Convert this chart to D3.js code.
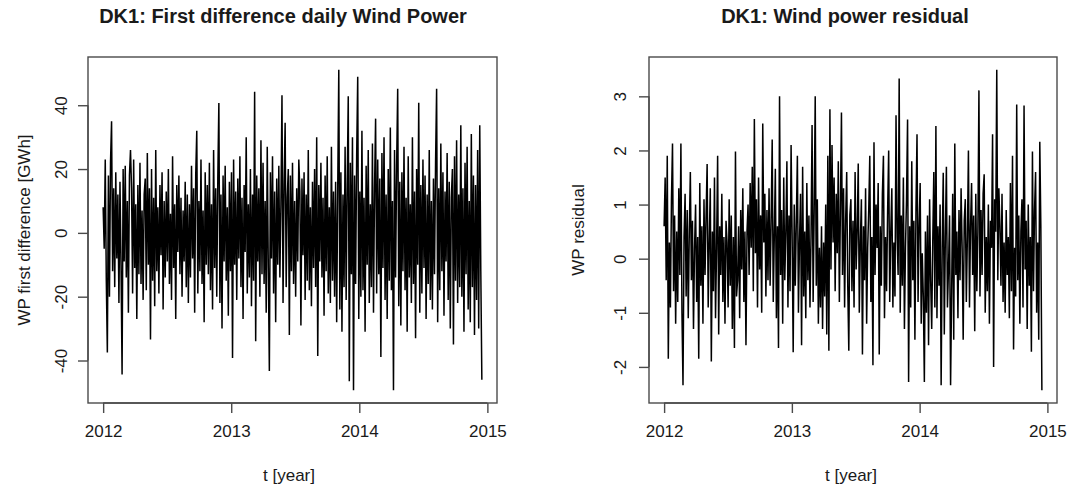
<!DOCTYPE html>
<html>
<head>
<meta charset="utf-8">
<script src="https://cdn.jsdelivr.net/npm/d3@7"></script>
<style>
  html, body { margin: 0; padding: 0; background: #fff; }
  svg { display: block; font-family: "Liberation Sans", Arial, sans-serif; }
</style>
</head>
<body>
<svg id="chart" width="1075" height="490"></svg>
<script>
// ---- data (daily series sampled every 3 days, starting 2012-01-01) ----
const startYear = 2012;
const stepDays = 3;

const wpDiff = [
  8, -5, 23, -15, -37.5, 18, -20, 22, 35, -12, 14, -17, 19, -8, 12, -22, 16, -10, -44.4, 20,
  -9, 21, -14, 10, -25, 18, 26, 14, -19, 23, -11, 9, -27, 15, -13, 22, -16, 7, -21, 12,
  17, -18, 25, -10, 14, -33.4, 20, -15, 11, -23, 26, -12, 8, -19, 15, -7, 19, -24, 10, -14,
  13, -9, 20, -16, 6, -21, 24, -11, 9, -27, 15, -6, 18, -13, 11, -20, 7, -9, 16, -17,
  12, -22, 9, -14, 21, -8, 14, -25, 18, 32, -19, 10, -12, 23, -16, 7, -28, 19, -10, 15,
  -13, 22, -18, 9, -24, 26, -11, 14, -20, 17, 40.7, -22, 12, -30, 18, -9, 21, -15, 8, -26,
  16, -12, 19, -39.2, 23, -10, 13, -21, 17, -8, 24, -17, 11, -27, 15, -6, 30, -19, 9, -14,
  20, -23, 12, -15, 44.2, -34, 18, -9, 14, -20, 29, -13, 22, -16, 10, -25, 27, -11, -43.3, 19,
  -8, 24, -19, 13, -28, 17, -10, 21, -14, 9, 43.1, -22, 15, 34.5, -17, 11, 20, -32, 18, -12,
  22, -16, 10, -20, 14, -9, 23, 13, -29, 17, -7, 19, -21, 12, -15, 26, -18, 8, -23, 16,
  -11, 20, -17, 30, -38.6, 15, -9, 22, -14, 11, -26, 18, -12, 24, -19, 8, -22, 27, -15, 13,
  -20, 16, -28, 14, 51.1, -24, 19, -31, 12, -17, 27, -21, 15, 42.8, -46.5, 22, -13, 30, -49.3, 18,
  -16, 24, 48.9, -27, 13, -20, 32, -18, 11, -31, 21, -10, 26, -22, 9, -17, 28, -25, 14, 35.8,
  -19, 23, -13, 17, -38.9, 25, -11, 30, -21, 12, -27, 20, -15, 33, -18, 10, -49.3, 26, -14, 21,
  45.2, -23, 16, -29, 19, -12, 27, -18, 11, -31, 24, -14, 9, -22, 30, -16, 13, -33, 20, -10,
  40.8, -25, 15, -19, 23, -11, 18, -27, 12, -16, 26, -21, 10, -24, 17, -13, 22, 45.2, -28, 14,
  -18, 28, -12, 19, -26, 13, -9, 25, -21, 16, -30, 11, 20, -35, 24, -15, 29, -22, 12, -17,
  33.7, -20, 14, -31, 22, -13, 27, -24, 10, -28, 31, -17, 18, -32, 15, -21, 26, -30, 33.7, -12, -46
];

const wpResid = [
  0.6, 1.5, -0.4, 1.9, -1.85, 0.3, -0.9, 1.1, 2.13, -0.6, 0.8, -1.2, 0.5, -0.8, 1.3, -0.3, 2.13, -1.0, -2.34, 0.4,
  1.2, -0.7, 0.9, -1.1, 0.5, 1.6, -0.4, 0.7, -1.3, 0.2, 1.0, -0.8, 0.4, -1.85, 1.4, -0.5, 0.6, -1.2, 1.1, -0.3,
  0.8, 1.75, -0.9, 0.3, 1.3, -1.9, 0.5, -0.6, 1.5, -1.1, 0.2, 1.9, -1.4, 0.6, -0.3, 1.2, -0.8, 0.4, -1.2, 0.7,
  0.3, -0.9, 1.1, -0.5, 0.8, -1.3, 0.4, -1.65, 1.98, -0.7, -0.4, 0.6, -1.1, 0.9, -0.2, 1.3, -0.8, 0.5, -1.6, 0.5,
  1.0, -0.3, 1.4, 0.2, 1.7, -0.6, 2.58, 0.1, 1.1, -0.9, 1.5, -0.2, 0.8, -1.0, 2.5, 0.3, 1.2, -0.7, 0.9, -0.4,
  1.3, -0.5, 0.7, 2.2, -0.8, 0.4, 1.66, -1.1, 0.6, -1.65, 3.0, -0.3, 0.9, -1.2, 1.5, -0.4, 0.5, 1.8, -0.9, 0.8,
  -0.6, 2.1, 0.4, -1.73, 1.0, -0.5, 0.7, 1.9, -1.0, 0.3, 1.2, -1.6, 1.7, -0.7, 0.5, -1.1, 1.4, -0.4, 0.8, -0.9,
  0.4, 2.47, -0.8, 0.9, 3.0, -0.5, 1.1, -1.2, 0.2, -0.9, 0.6, -1.3, 0.3, -0.7, 1.0, -1.4, 1.9, -1.7, 2.76, -0.2,
  2.1, 0.3, 1.5, -0.6, 1.2, 0.1, 1.8, -0.8, 0.9, 2.7, -0.3, 1.3, -0.9, 0.7, 1.6, -0.5, -1.7, 0.8, 1.1, -0.6,
  0.7, -0.9, 1.6, -0.2, 0.5, 1.76, -1.0, 0.3, 1.1, -1.77, 0.6, -0.4, 1.3, -1.2, 0.2, 0.9, 1.9, -0.8, 0.4, -1.97,
  2.15, -0.3, 1.0, 0.2, 1.4, -1.77, 0.6, -0.5, 1.2, 1.9, -1.1, 0.4, -0.6, 0.9, 2.0, -0.8, 0.5, 1.3, -0.9, 0.3,
  -0.7, 2.65, 0.4, -0.3, 3.33, -1.0, 0.8, -0.5, 1.5, -1.3, 0.2, 1.1, 2.57, -2.28, 0.6, -0.9, 1.8, -0.4, 0.7, -1.5,
  0.9, 2.3, -0.8, 0.6, 1.4, -1.2, 0.1, -0.7, -2.28, 0.5, -1.0, 0.8, -1.6, 1.1, -0.4, -1.3, 0.3, 1.6, -0.9, 2.45,
  -1.1, 0.6, -0.5, 1.0, -2.34, 0.2, 1.59, -1.4, 0.4, 1.7, -0.9, -0.2, 0.8, -2.34, -0.6, 1.2, -1.5, 2.13, -0.3, 0.5,
  -1.1, 0.9, -0.4, 1.3, 0.2, -1.5, 0.7, 1.1, -0.8, 0.4, 2.0, -0.9, 0.6, 1.4, -0.3, 0.8, -1.34, 1.2, -0.6, 0.5,
  3.11, -0.7, 0.9, -0.3, 1.2, 1.56, -1.0, 0.4, -0.6, 1.0, -1.2, 0.7, 0.2, 2.3, -2.0, 1.1, 0.5, 3.49, -0.4, 1.3,
  0.6, -0.5, 1.2, -0.8, 0.3, -1.0, 0.9, -0.3, 0.4, -1.1, 1.4, -0.6, 1.9, -1.68, 0.2, -0.7, 2.85, -0.4, 0.8, -1.2,
  0.5, 1.1, -0.9, 2.83, -0.2, 0.7, -1.3, 1.0, -0.5, 0.4, -1.72, 1.98, -0.6, 0.9, 1.6, -1.0, 0.3, -1.5, 2.16, 0.6, -2.43
];

const yearTicks = [2012, 2013, 2014, 2015];
const diffTicks = [-40, -20, 0, 20, 40];
const residTicks = [-2, -1, 0, 1, 2, 3];

const titles = ["DK1: First difference daily Wind Power", "DK1: Wind power residual"];
const xLabel = "t [year]";
const yLabels = ["WP first difference [GWh]", "WP residual"];

// ---- drawing ----
const svg = d3.select("#chart");
const ink = "#1a1a1a";
const boxInk = "#4a4a4a";
const plain = d => String(d);   // R-style hyphen minus

function padded(ext) {
  const p = (ext[1] - ext[0]) * 0.04;
  return [ext[0] - p, ext[1] + p];
}

function drawPanel(cfg) {
  const { values, yTicks, title, yLabel, left, right, top, bottom, titleX, ylabX, yTickX, xlabX } = cfg;
  const time = values.map((_, i) => startYear + i * stepDays / 365.25);
  const x = d3.scaleLinear().domain(padded(d3.extent(time))).range([left, right]);
  const y = d3.scaleLinear().domain(padded(d3.extent(values))).range([bottom, top]);

  const g = svg.append("g");

  // series line
  const line = d3.line().x((d, i) => x(time[i])).y(d => y(d));
  g.append("path")
    .datum(values)
    .attr("d", line)
    .attr("fill", "none")
    .attr("stroke", "#000")
    .attr("stroke-width", 1.5)
    .attr("stroke-linejoin", "bevel");

  // box
  g.append("rect")
    .attr("x", left).attr("y", top)
    .attr("width", right - left).attr("height", bottom - top)
    .attr("fill", "none").attr("stroke", boxInk).attr("stroke-width", 1.4);

  // x axis
  const xAxis = d3.axisBottom(x).tickValues(yearTicks).tickFormat(plain)
    .tickSize(10).tickPadding(12);
  const xg = g.append("g").attr("transform", `translate(0,${bottom})`).call(xAxis);
  xg.select(".domain").attr("d", `M${x(yearTicks[0])},0H${x(yearTicks[yearTicks.length - 1])}`)
    .attr("stroke", boxInk).attr("stroke-width", 1.4);
  xg.selectAll(".tick line").attr("stroke", boxInk).attr("stroke-width", 1.4);
  xg.selectAll(".tick text").attr("font-size", 17).attr("fill", ink)
    .attr("font-family", "Liberation Sans, Arial, sans-serif");

  // y axis
  const yAxis = d3.axisLeft(y).tickValues(yTicks).tickFormat(plain).tickSize(10);
  const yg = g.append("g").attr("transform", `translate(${left},0)`).call(yAxis);
  yg.select(".domain").attr("d", `M0,${y(yTicks[0])}V${y(yTicks[yTicks.length - 1])}`)
    .attr("stroke", boxInk).attr("stroke-width", 1.4);
  yg.selectAll(".tick line").attr("stroke", boxInk).attr("stroke-width", 1.4);
  yg.selectAll(".tick text")
    .attr("x", null).attr("dy", null)
    .attr("font-size", 17).attr("fill", ink)
    .attr("font-family", "Liberation Sans, Arial, sans-serif")
    .attr("text-anchor", "middle")
    .attr("transform", `translate(${yTickX - left},0) rotate(-90)`)
    .attr("dy", "0.36em");

  // title
  svg.append("text")
    .attr("x", titleX).attr("y", 23)
    .attr("text-anchor", "middle")
    .attr("font-size", 20).attr("font-weight", "bold").attr("fill", ink)
    .text(title);

  // x label
  svg.append("text")
    .attr("x", xlabX).attr("y", 481)
    .attr("text-anchor", "middle")
    .attr("font-size", 17).attr("fill", ink)
    .text(xLabel);

  // y label
  svg.append("text")
    .attr("transform", `translate(${ylabX},${(top + bottom) / 2}) rotate(-90)`)
    .attr("text-anchor", "middle")
    .attr("dy", "0.36em")
    .attr("font-size", 17).attr("fill", ink)
    .text(yLabel);
}

drawPanel({
  values: wpDiff, yTicks: diffTicks, title: titles[0], yLabel: yLabels[0],
  left: 88, right: 497, top: 57, bottom: 403,
  titleX: 283, ylabX: 24, yTickX: 61, xlabX: 289
});

drawPanel({
  values: wpResid, yTicks: residTicks, title: titles[1], yLabel: yLabels[1],
  left: 649, right: 1057, top: 57, bottom: 403,
  titleX: 845, ylabX: 578, yTickX: 620, xlabX: 851
});
</script>
</body>
</html>
